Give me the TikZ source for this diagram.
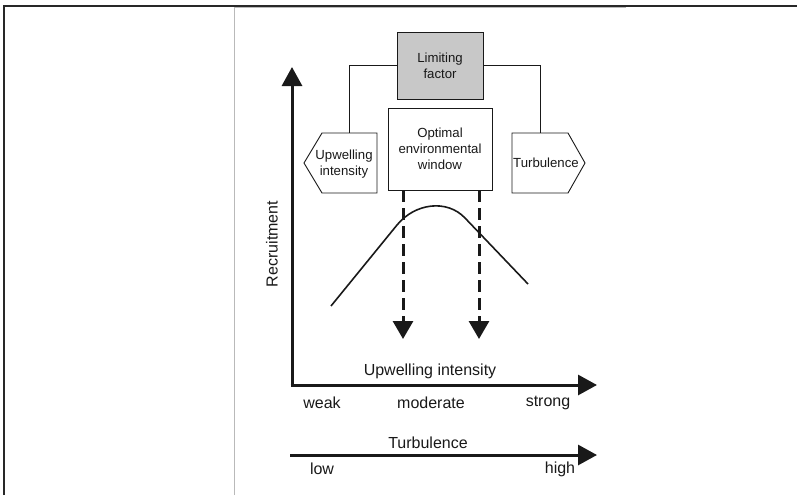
\documentclass[tikz,border=0pt]{standalone}
\usepackage{fontspec}
\setmainfont{Liberation Sans}
\usetikzlibrary{arrows.meta,calc}
\definecolor{framecol}{RGB}{40,40,40}
\definecolor{imgedge}{RGB}{185,185,185}
\definecolor{limfill}{RGB}{200,200,200}
\definecolor{inkcol}{RGB}{25,25,25}
\tikzset{
  boxtext/.style={font=\fontsize{13.2}{15.8}\selectfont, align=center, text=inkcol},
  lbl/.style={font=\fontsize{16}{19}\selectfont, text=inkcol, inner sep=0pt},
  thinbox/.style={draw=inkcol, line width=0.9pt},
  axis/.style={draw=inkcol, line width=3pt, -{Triangle[width=20pt,length=19pt]}},
  dasharrow/.style={draw=inkcol, line width=3pt, dash pattern=on 12pt off 6pt, -{Triangle[width=20pt,length=18pt]}},
  connector/.style={draw=inkcol, line width=0.9pt}
}
\begin{document}
\begin{tikzpicture}[x=1pt,y=-1pt]
\useasboundingbox (0,0) rectangle (797,495);
% frame
\draw[imgedge, line width=1pt] (234,495) -- (234,7.5) -- (626,7.5);
\draw[framecol, line width=1.2pt] (4,495) -- (4,6) -- (797,6);

% boxes
\node[thinbox, fill=limfill, minimum width=86pt, minimum height=67pt, boxtext] (lim) at (440,65.5) {Limiting\\factor};
\node[thinbox, minimum width=104pt, minimum height=82pt, boxtext] (opt) at (440,149) {Optimal\\environmental\\window};

% pointed boxes
\draw[thinbox] (304,163) -- (322,133) -- (377,133) -- (377,193) -- (322,193) -- cycle;
\node[boxtext, inner sep=0pt] (up) at (344,164) {Upwelling\\intensity};
\draw[thinbox] (512,133) -- (568,133) -- (585,163) -- (568,193) -- (512,193) -- cycle;
\node[boxtext, inner sep=0pt] (tu) at (546,163) {Turbulence};
\coordinate (uptop) at (349.5,133);
\coordinate (tutop) at (540,133);

% connectors
\draw[connector] (lim.west) -| (uptop);
\draw[connector] (lim.east) -| (tutop);

% axes
\coordinate (O) at (292,385);
\coordinate (ytip) at (292,67);
\coordinate (xtip) at (597,385);
\draw[axis] ([yshift=1.5pt]O) -- (ytip);
\draw[axis] ([xshift=-1.5pt]O) -- (xtip);
\coordinate (t0) at (290,455);
\coordinate (t1) at (597,455);
\draw[axis] (t0) -- (t1);

% curve
\draw[inkcol, line width=1.6pt] (331,306) -- (397,225) .. controls (415,203) and (447,199) .. (465,218) -- (528,284);

% dashed arrows
\coordinate (d1) at (403,339);
\coordinate (d2) at (479,339);
\draw[dasharrow] (opt.south -| d1) -- (d1);
\draw[dasharrow] (opt.south -| d2) -- (d2);

% labels
\node[lbl, rotate=90] (rec) at (272,244) {Recruitment};
\node[lbl] (ui) at (430,371) {Upwelling intensity};
\node[lbl] (weak) at (322,403) {weak};
\node[lbl] (mod) at (431,403) {moderate};
\node[lbl] (strong) at (548,403) {strong};
\node[lbl] (turb) at (428,443) {Turbulence};
\node[lbl] (low) at (322,469) {low};
\node[lbl] (high) at (560,469) {high};
\end{tikzpicture}
\end{document}
